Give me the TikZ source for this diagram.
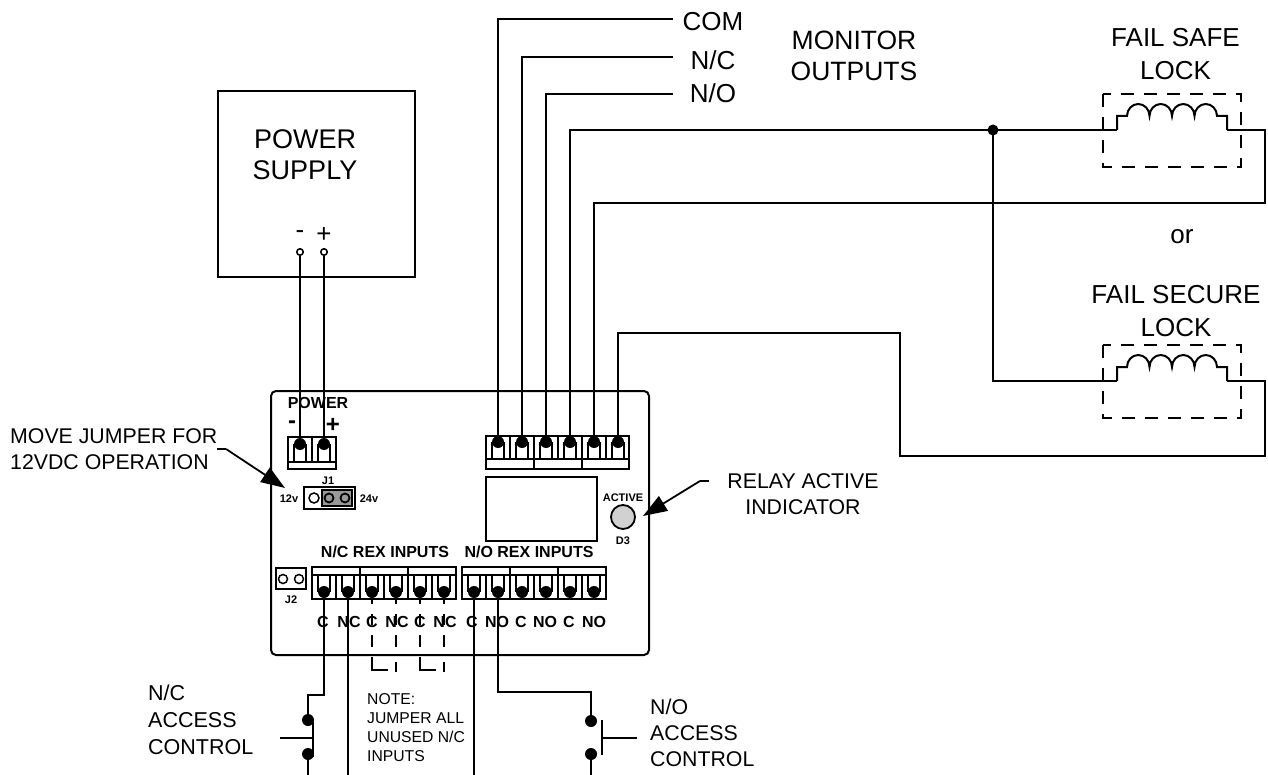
\documentclass[tikz,border=0pt]{standalone}
\usepackage{fontspec}
\setmainfont{Liberation Sans}
\usetikzlibrary{arrows.meta}
\tikzset{
    wire/.style={line width=2pt, line join=miter},
    thinwire/.style={line width=1.5pt},
    body/.style={draw, line width=2pt},
    dashwire/.style={line width=1.7pt, dash pattern=on 13pt off 10pt},
    jumpwire/.style={line width=1.7pt, dash pattern=on 11.5pt off 10pt},
    termdot/.style={circle, fill=black, inner sep=0pt, minimum size=12pt},
    pindot/.style={circle, draw, line width=1.5pt, fill=white, inner sep=0pt, minimum size=6.5pt},
    biglabel/.style={font=\fontsize{26}{33}\selectfont, inner sep=0pt, align=center},
    notelabel/.style={font=\fontsize{15.7}{19}\selectfont, inner sep=0pt, align=left, anchor=west},
    midlabel/.style={font=\fontsize{21.3}{26}\selectfont, inner sep=0pt, align=left, anchor=west},
    boardlabel/.style={font=\bfseries\fontsize{16}{16}\selectfont, inner sep=0pt},
    tinylabel/.style={font=\bfseries\fontsize{11}{11}\selectfont, inner sep=0pt},
    pointer/.style={line width=1.8pt, -{Triangle[length=24pt,width=17pt]}}
}
\newcommand{\termpin}[3]{% x, y from, y to
    \draw[thinwire] (#1-6,#2) -- (#1-6,#3) (#1+6,#2) -- (#1+6,#3);
}
\begin{document}
\begin{tikzpicture}[x=1pt, y=-1pt]
    \useasboundingbox (0,0) rectangle (1268,775);

    % power supply
    \draw[body] (218,91) rectangle (415,277);
    \node[biglabel, font=\fontsize{27}{31}\selectfont] (psu) at (305,155) {POWER\\SUPPLY};
    \node[biglabel] (psuminus) at (300,235) {-};
    \node[biglabel] (psuplus) at (324,235) {+};
    \node[pindot] (psun) at (300,252) {};
    \node[pindot] (psup) at (324,252) {};

    % controller board
    \draw[body, rounded corners=5pt] (271,391) rectangle (649,655);
    \node[boardlabel] (powerlabel) at (318,403) {POWER};
    \node[font=\bfseries\fontsize{24}{24}\selectfont, inner sep=0pt] (pwrminus) at (292,425) {-};
    \node[font=\bfseries\fontsize{24}{24}\selectfont, inner sep=0pt] (pwrplus) at (333,425) {+};

    % power plug
    \draw[body] (288,437) rectangle (336,469);
    \draw[wire] (288,462) -- (336,462) (312,437) -- (312,462);
    \foreach \x in {300, 324}
    {
        \termpin{\x}{444}{462}
    }
    \node[termdot] (pwr1) at (300,444) {};
    \node[termdot] (pwr2) at (324,444) {};

    % relay plug
    \draw[body] (486,436) rectangle (629,469);
    \draw[wire] (486,459) -- (629,459);
    \foreach \x in {510, 534, 558, 582, 606}
        \draw[wire] (\x,436) -- (\x,459);
    \draw[wire] (534,459) -- (534,469) (582,459) -- (582,469);
    \foreach \x in {498, 522, 546, 570, 594, 618}
    {
        \termpin{\x}{442}{459}
    }
    \node[termdot] (rly1) at (498,442) {};
    \node[termdot] (rly2) at (522,442) {};
    \node[termdot] (rly3) at (546,442) {};
    \node[termdot] (rly4) at (570,442) {};
    \node[termdot] (rly5) at (594,442) {};
    \node[termdot] (rly6) at (618,442) {};

    % relay, led
    \draw[body] (486,477) rectangle (597,541);
    \node[draw, circle, line width=1.8pt, fill=black!18, minimum size=24pt, inner sep=0pt] (led) at (623,517) {};
    \node[tinylabel] (ledtop) at (623,498) {ACTIVE};
    \node[tinylabel] (ledbot) at (623,541) {D3};

    % jumpers
    \draw[body] (304,487) rectangle (355,509);
    \fill[black!40] (322,490) rectangle (352,506);
    \draw[line width=1.5pt] (322,490) rectangle (352,506);
    \node[pindot, minimum size=10pt] (j1a) at (314,498) {};
    \node[pindot, minimum size=9pt, line width=1.8pt, fill=black!40] (j1b) at (329,498) {};
    \node[pindot, minimum size=9pt, line width=1.8pt, fill=black!40] (j1c) at (345,498) {};
    \node[tinylabel] (j1) at (328,481) {J1};
    \node[tinylabel] (v12) at (289,499) {12v};
    \node[tinylabel] (v24) at (369,499) {24v};
    \draw[body] (276,568) rectangle (306,589);
    \node[pindot, minimum size=9pt] (j2a) at (283,579) {};
    \node[pindot, minimum size=9pt] (j2b) at (299,579) {};
    \node[tinylabel] (j2) at (291,600) {J2};

    % rex plugs
    \foreach \blockx/\blockend in {312/456, 462/606}
    {
        \draw[body] (\blockx,567) rectangle (\blockend,599);
        \draw[wire] (\blockx,575) -- (\blockend,575);
        \foreach \k in {24, 48, 72, 96, 120}
            \draw[wire] (\blockx+\k,575) -- (\blockx+\k,599);
        \draw[wire] (\blockx+48,567) -- (\blockx+48,575) (\blockx+96,567) -- (\blockx+96,575);
        \foreach \k in {12, 36, 60, 84, 108, 132}
        {
            \termpin{\blockx+\k}{575}{592}
        }
    }
    \node[termdot] (nc1) at (324,592) {};
    \node[termdot] (nc2) at (348,592) {};
    \node[termdot] (nc3) at (372,592) {};
    \node[termdot] (nc4) at (396,592) {};
    \node[termdot] (nc5) at (420,592) {};
    \node[termdot] (nc6) at (444,592) {};
    \node[termdot] (no1) at (474,592) {};
    \node[termdot] (no2) at (498,592) {};
    \node[termdot] (no3) at (522,592) {};
    \node[termdot] (no4) at (546,592) {};
    \node[termdot] (no5) at (570,592) {};
    \node[termdot] (no6) at (594,592) {};
    \node[boardlabel] (nchead) at (385,552) {N/C REX INPUTS};
    \node[boardlabel] (nohead) at (529,552) {N/O REX INPUTS};
    \foreach \x/\t in {323/C, 349/NC, 372/C, 397/NC, 420/C, 445/NC, 472/C, 497/NO, 521/C, 545/NO, 569/C, 594/NO}
        \node[boardlabel] at (\x,622) {\t};

    % monitor outputs
    \coordinate (comend) at (673,19);
    \coordinate (ncend) at (673,57);
    \coordinate (noend) at (673,94);
    \draw[wire] (rly1.center) |- (comend);
    \draw[wire] (rly2.center) |- (ncend);
    \draw[wire] (rly3.center) |- (noend);
    \node[biglabel] (comlabel) at (713,22) {COM};
    \node[biglabel] (nclabel) at (713,60) {N/C};
    \node[biglabel] (nolabel) at (713,93) {N/O};
    \node[biglabel, font=\fontsize{26.5}{31}\selectfont] (monitor) at (854,56) {MONITOR\\OUTPUTS};

    % fail safe lock
    \draw[dashwire] (1103,94) rectangle (1241,167);
    \coordinate (safein) at (1117,130);
    \coordinate (safeout) at (1227,130);
    \draw[wire] (safein) -- (1117,116) -- (1127,116)
        arc[start angle=180, end angle=360, x radius=11.25, y radius=12]
        arc[start angle=180, end angle=360, x radius=11.25, y radius=12]
        arc[start angle=180, end angle=360, x radius=11.25, y radius=12]
        arc[start angle=180, end angle=360, x radius=11.25, y radius=12]
        -- (1227,116) -- (safeout);
    \node[biglabel] (safelabel) at (1175.5,54) {FAIL SAFE\\LOCK};

    % fail secure lock
    \draw[dashwire] (1103,345) rectangle (1241,418);
    \coordinate (securein) at (1117,381);
    \coordinate (secureout) at (1227,381);
    \draw[wire] (securein) -- (1117,367) -- (1127,367)
        arc[start angle=180, end angle=360, x radius=11.25, y radius=12]
        arc[start angle=180, end angle=360, x radius=11.25, y radius=12]
        arc[start angle=180, end angle=360, x radius=11.25, y radius=12]
        arc[start angle=180, end angle=360, x radius=11.25, y radius=12]
        -- (1227,367) -- (secureout);
    \node[biglabel] (securelabel) at (1176,311) {FAIL SECURE\\LOCK};
    \node[biglabel] (orlabel) at (1182,237) {or};

    % lock wiring
    \node[termdot, minimum size=11pt] (split) at (993,130) {};
    \draw[wire] (rly4.center) |- (split.center) -- (safein);
    \draw[wire] (split.center) |- (securein);
    \draw[wire] (rly5.center) |- (1265,203) |- (safeout);
    \draw[wire] (rly6.center) |- (900,333) |- (1265,456) |- (secureout);

    % power wiring
    \draw[wire] (psun) -- (pwr1.center);
    \draw[wire] (psup) -- (pwr2.center);

    % callouts
    \node[midlabel] (movenote) at (10,449) {MOVE JUMPER FOR\\12VDC OPERATION};
    \coordinate (moveend) at (217,449);
    \coordinate (movebend) at (226,449);
    \coordinate (movetip) at (285,488);
    \draw[thinwire] (moveend) -- (movebend);
    \draw[pointer] (movebend) -- (movetip);
    \node[midlabel, align=center, anchor=center] (relaynote) at (803,494) {RELAY ACTIVE\\INDICATOR};
    \coordinate (relayend) at (709,481);
    \coordinate (relaybend) at (700,481);
    \coordinate (relaytip) at (643,516);
    \draw[thinwire] (relayend) -- (relaybend);
    \draw[pointer] (relaybend) -- (relaytip);

    % access control, normally closed side
    \node[termdot] (swa1) at (308,720) {};
    \node[termdot] (swa2) at (308,754) {};
    \coordinate (swaout) at (308,775);
    \coordinate (ncout) at (348,775);
    \coordinate (cout) at (474,775);
    \draw[wire] (nc1.center) |- (308,695) -- (swa1.center);
    \draw[wire] (nc2.center) -- (ncout);
    \draw[wire] (swa2.center) -- (swaout);
    \draw[wire] (313,722) -- (313,757);
    \draw[wire] (280,738) -- (313,738);
    \node[midlabel, font=\fontsize{21.5}{27}\selectfont] (accessa) at (148,720) {N/C\\ACCESS\\CONTROL};

    % access control, normally open side
    \node[termdot] (swb1) at (591,721) {};
    \node[termdot] (swb2) at (591,754) {};
    \coordinate (swbout) at (591,775);
    \draw[wire] (no1.center) -- (cout);
    \draw[wire] (no2.center) |- (591,692) -- (swb1.center);
    \draw[wire] (swb2.center) -- (swbout);
    \draw[wire] (602,720) -- (602,755);
    \draw[wire] (602,738) -- (637,738);
    \node[midlabel] (accessb) at (650,733) {N/O\\ACCESS\\CONTROL};

    % jumper note
    \coordinate (jumpa) at (372,650);
    \coordinate (jumpb) at (396,650);
    \coordinate (jumpc) at (420,650);
    \coordinate (jumpd) at (444,650);
    \draw[jumpwire] (nc3.center) -- (jumpa);
    \draw[jumpwire] (nc4.center) -- (jumpb);
    \draw[jumpwire] (nc5.center) -- (jumpc);
    \draw[jumpwire] (nc6.center) -- (jumpd);
    \draw[line width=1.7pt] (372,657) -- (372,670) -- (388,670);
    \draw[line width=1.7pt] (420,657) -- (420,670) -- (436,670);
    \draw[line width=1.7pt] (396,662) -- (396,672) (444,662) -- (444,672);
    \node[notelabel] (jumpernote) at (367,728) {NOTE:\\JUMPER ALL\\UNUSED N/C\\INPUTS};
\end{tikzpicture}
\end{document}
